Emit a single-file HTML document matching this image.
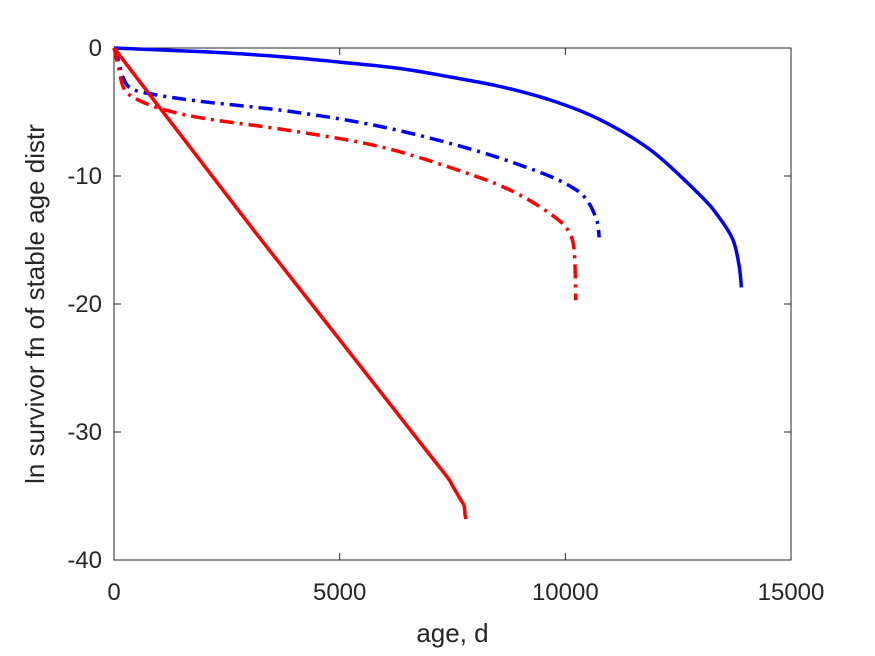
<!DOCTYPE html>
<html><head><meta charset="utf-8"><style>
body{margin:0;background:#fff;}
svg{display:block;font-family:"Liberation Sans",sans-serif;}
</style></head><body>
<svg id="chart" width="875" height="656" viewBox="0 0 875 656">
<rect x="0" y="0" width="875" height="656" fill="#fff"/>
<g id="plot"></g>
</svg>
<script>
const xTicks=[0,5000,10000,15000];
const yTicks=[0,-10,-20,-30,-40];
const xTickLabels=["0","5000","10000","15000"];
const yTickLabels=["0","-10","-20","-30","-40"];
const blueSolidX=[0,1000,2000,3000,4120,5000,6340,7500,8550,9700,10770,11900,12985,13400,13716,13850,13900];
const blueSolidY=[0,-0.15,-0.3,-0.5,-0.8,-1.1,-1.6,-2.3,-3,-4.1,-5.6,-8,-11.5,-13.2,-15,-17,-18.7];
const blueDashX=[0,100,200,400,1000,2000,4000,6000,8000,9500,10200,10500,10700,10750];
const blueDashY=[0,-1,-2.3,-3.2,-3.7,-4.2,-5,-6.2,-8,-9.8,-11,-12,-13.5,-14.8];
const redDashX=[0,100,200,400,1000,2000,4000,6000,8000,9000,9800,10100,10200,10230];
const redDashY=[0,-1.5,-3,-3.8,-4.7,-5.5,-6.5,-7.8,-10,-11.5,-13.3,-14.5,-16,-19.7];
const redSolidX=[0,1000,2000,3000,4000,5000,6000,7000,7400,7500,7600,7700,7760,7780,7800];
const redSolidY=[0,-4.6,-9.2,-13.8,-18.3,-22.8,-27.3,-31.8,-33.6,-34.2,-34.8,-35.4,-35.8,-36.5,-36.8];

const L=114,R=791,T=48,B=560;
const xs=v=>L+(v-0)/15000*(R-L);
const ys=v=>T+(0-v)/40*(B-T);
const ns="http://www.w3.org/2000/svg";
const g=document.getElementById('plot');
function mk(t,a){const e=document.createElementNS(ns,t);for(const k in a)e.setAttribute(k,a[k]);g.appendChild(e);return e;}
const box=mk('rect',{x:L,y:T,width:R-L,height:B-T,fill:'none',stroke:'#262626','stroke-width':1});


xTicks.forEach((v,i)=>{
  const x=xs(v);
  const t=mk('line',{x1:x,x2:x,y1:B,y2:B-7,stroke:'#262626'});
  
  
  const t2=mk('line',{x1:x,x2:x,y1:T,y2:T+7,stroke:'#262626'});
  
  
  const l=mk('text',{x:x,y:B+40,'text-anchor':'middle','font-size':24,fill:'#262626'});
  l.textContent=xTickLabels[i];
  
  
});
yTicks.forEach((v,i)=>{
  const y=ys(v);
  const t=mk('line',{x1:L,x2:L+7,y1:y,y2:y,stroke:'#262626'});
  
  
  const t2=mk('line',{x1:R,x2:R-7,y1:y,y2:y,stroke:'#262626'});
  
  
  const l=mk('text',{x:L-12,y:y+8,'text-anchor':'end','font-size':24,fill:'#262626'});
  l.textContent=yTickLabels[i];
  
  
});
function series(X,Y,color,dash,name){
  const P=X.map((v,i)=>[xs(v),ys(Y[i])]);
  let d='M'+P[0][0].toFixed(1)+','+P[0][1].toFixed(1);
  for(let i=0;i<P.length-1;i++){
    const p0=P[i-1]||P[i],p1=P[i],p2=P[i+1],p3=P[i+2]||P[i+1];
    const c1=[p1[0]+(p2[0]-p0[0])/6,p1[1]+(p2[1]-p0[1])/6];
    const c2=[p2[0]-(p3[0]-p1[0])/6,p2[1]-(p3[1]-p1[1])/6];
    d+='C'+c1.map(n=>n.toFixed(1)).join(',')+' '+c2.map(n=>n.toFixed(1)).join(',')+' '+p2.map(n=>n.toFixed(1)).join(',');
  }
  const p=mk('path',{d:d,fill:'none',stroke:color,'stroke-width':3.5,'stroke-linejoin':'round'});
  if(dash)p.setAttribute('stroke-dasharray',dash);
  
  
}
series(blueSolidX,blueSolidY,'#0000ff',null,'blue-solid-line');
series(blueDashX,blueDashY,'#0000ff','14,6,3,6','blue-dashdot-line');
series(redDashX,redDashY,'#ff0000','14,6,3,6','red-dashdot-line');
series(redSolidX,redSolidY,'#ff0000',null,'red-solid-line');
const xt=mk('text',{x:(L+R)/2,y:642,'text-anchor':'middle','font-size':26,fill:'#262626'});
xt.textContent='age, d';


const yt=mk('text',{x:0,y:0,'text-anchor':'middle','font-size':26,fill:'#262626',transform:`translate(44,${(T+B)/2}) rotate(-90)`});
yt.textContent='ln survivor fn of stable age distr';


</script>
</body></html>
